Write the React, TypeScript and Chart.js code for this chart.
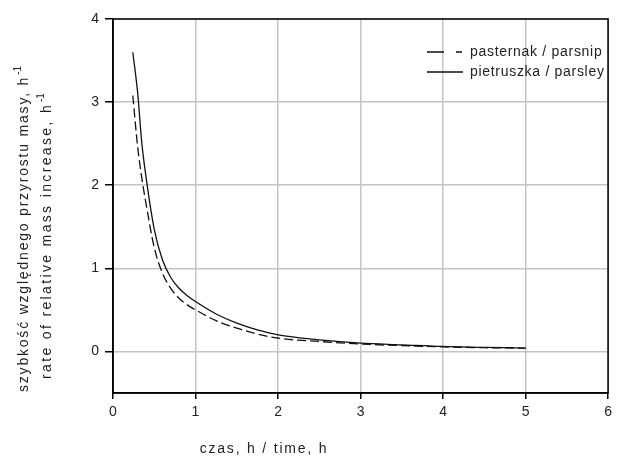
import React, { useEffect, useRef } from "react";
import { Chart, registerables } from "chart.js";

Chart.register(...registerables);

const timeH = [0.24, 0.3, 0.35, 0.4, 0.5, 0.6, 0.7, 0.8, 0.9, 1.0, 1.25, 1.5, 1.75, 2.0, 2.5, 3.0, 3.5, 4.0, 4.5, 5.0];
const parsnip = [3.08, 2.45, 2.08, 1.78, 1.25, 0.94, 0.76, 0.64, 0.56, 0.5, 0.37, 0.28, 0.21, 0.16, 0.12, 0.09, 0.07, 0.055, 0.045, 0.04];
const parsley = [3.6, 3.1, 2.5, 2.1, 1.47, 1.1, 0.89, 0.76, 0.67, 0.6, 0.45, 0.34, 0.26, 0.2, 0.14, 0.1, 0.08, 0.06, 0.05, 0.04];
const seriesLabels = ["pasternak / parsnip", "pietruszka / parsley"];
const yTicks = [0, 1, 2, 3, 4];
const xTitle = "czas, h / time, h";
const yTitle1 = "szybkość względnego przyrostu masy, h";
const yTitle2 = "rate of relative mass increase, h";
const supText = "-1";

const FONT = "'Liberation Sans', Arial, sans-serif";

function drawWithSup(ctx: CanvasRenderingContext2D, main: string, sup: string, cx: number, cy: number, size: number, spacing: number) {
  ctx.font = `${size}px ${FONT}`;
  (ctx as any).letterSpacing = `${spacing}px`;
  const wMain = ctx.measureText(main).width;
  ctx.font = `${Math.round(size * 0.7)}px ${FONT}`;
  (ctx as any).letterSpacing = `0px`;
  const wSup = ctx.measureText(sup).width;
  const total = wMain + 1 + wSup;
  const x0 = cx - total / 2;
  ctx.textAlign = "left";
  ctx.textBaseline = "middle";
  ctx.font = `${size}px ${FONT}`;
  (ctx as any).letterSpacing = `${spacing}px`;
  ctx.fillText(main, x0, cy);
  ctx.font = `${Math.round(size * 0.7)}px ${FONT}`;
  (ctx as any).letterSpacing = `0px`;
  ctx.fillText(sup, x0 + wMain + 1, cy - size * 0.4);
}

const overlayPlugin = {
  id: "overlay",
  afterDraw(chart: any) {
    const { ctx, chartArea: a } = chart;
    ctx.save();
    // frame
    ctx.strokeStyle = "#000";
    ctx.lineWidth = 1.5;
    ctx.setLineDash([]);
    ctx.strokeRect(a.left, a.top, a.right - a.left, a.bottom - a.top);

    // legend
    const ds = chart.data.datasets;
    const lx0 = a.left + 314;
    const lx1 = a.left + 350;
    const ty = [a.top + 33, a.top + 53];
    ctx.strokeStyle = "#111";
    ctx.lineWidth = 1.3;
    ds.forEach((d: any, i: number) => {
      ctx.beginPath();
      ctx.setLineDash(i === 0 ? [17, 12, 6, 100] : []);
      ctx.moveTo(lx0, ty[i]);
      ctx.lineTo(lx1, ty[i]);
      ctx.stroke();
      ctx.setLineDash([]);
      ctx.fillStyle = "#222";
      ctx.font = `14px ${FONT}`;
      (ctx as any).letterSpacing = "0.7px";
      ctx.textAlign = "left";
      ctx.textBaseline = "middle";
      ctx.fillText(d.label, lx1 + 7, ty[i]);
    });
    (ctx as any).letterSpacing = "0px";

    // x title
    ctx.fillStyle = "#222";
    ctx.font = `14px ${FONT}`;
    (ctx as any).letterSpacing = "1.8px";
    ctx.textAlign = "center";
    ctx.textBaseline = "middle";
    ctx.fillText(xTitle, 264, 449);
    (ctx as any).letterSpacing = "0px";

    // y titles
    ctx.save();
    ctx.translate(24, 229);
    ctx.rotate(-Math.PI / 2);
    drawWithSup(ctx, yTitle1, supText, 0, 0, 14, 1.8);
    ctx.restore();
    ctx.save();
    ctx.translate(47, 236);
    ctx.rotate(-Math.PI / 2);
    drawWithSup(ctx, yTitle2, supText, 0, 0, 14, 2.35);
    ctx.restore();

    ctx.restore();
  },
};

export default function App() {
  const ref = useRef<HTMLCanvasElement | null>(null);
  useEffect(() => {
    if (!ref.current) return;
    const chart = new Chart(ref.current, {
      type: "line",
      data: {
        datasets: [
          {
            label: seriesLabels[0],
            data: timeH.map((x, i) => ({ x, y: parsnip[i] })),
            borderColor: "#111",
            borderWidth: 1.3,
            borderDash: [9, 4],
            pointRadius: 0,
            fill: false,
            cubicInterpolationMode: "monotone",
          },
          {
            label: seriesLabels[1],
            data: timeH.map((x, i) => ({ x, y: parsley[i] })),
            borderColor: "#111",
            borderWidth: 1.3,
            pointRadius: 0,
            fill: false,
            cubicInterpolationMode: "monotone",
          },
        ],
      },
      options: {
        responsive: false,
        animation: false,
        layout: { padding: { top: 19, right: 1, left: 0, bottom: 0 } },
        plugins: {
          legend: { display: false },
          tooltip: { enabled: false },
        },
        scales: {
          x: {
            type: "linear",
            min: 0,
            max: 6,
            ticks: { stepSize: 1, color: "#222", font: { family: FONT, size: 14 }, padding: 5, maxRotation: 0 },
            grid: { color: "#c4c4c4", lineWidth: 1.5, tickColor: "#000", tickLength: 6, tickWidth: 1.5 },
            border: { color: "#000", width: 1.5 },
            afterFit: (s: any) => {
              s.height = 63;
            },
          },
          y: {
            type: "linear",
            min: -0.5,
            max: 4,
            afterBuildTicks: (s: any) => {
              s.ticks = yTicks.map((v) => ({ value: v }));
            },
            ticks: { color: "#222", font: { family: FONT, size: 14 }, padding: 6 },
            grid: { color: "#c4c4c4", lineWidth: 1.5, tickColor: "#000", tickLength: 8, tickWidth: 1.5 },
            border: { color: "#000", width: 1.5 },
            afterFit: (s: any) => {
              s.width = 113;
            },
          },
        },
      },
      plugins: [overlayPlugin],
    } as any);
    return () => chart.destroy();
  }, []);
  return (
    <div style={{ position: "fixed", left: 0, top: 0, width: 617, height: 456, background: "#fff" }}>
      <canvas ref={ref} width={617} height={456} />
    </div>
  );
}
